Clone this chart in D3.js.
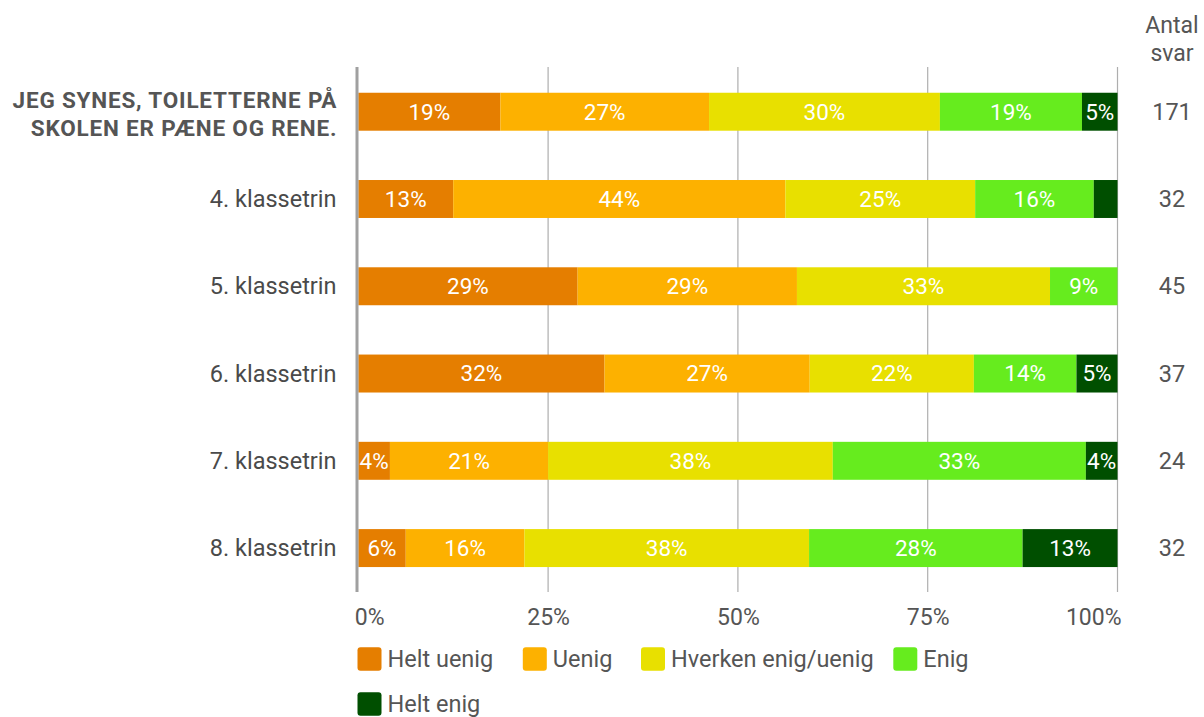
<!DOCTYPE html>
<html>
<head>
<meta charset="utf-8">
<script src="https://cdn.jsdelivr.net/npm/d3@7"></script>
<style>
  html, body { margin: 0; padding: 0; background: #fff; }
  svg { display: block; font-family: Roboto, "Noto Sans", sans-serif; }
</style>
</head>
<body>
<svg id="chart" width="1204" height="717"></svg>
<script>
// Survey groups (first row is the whole school)
const groups = ["JEG SYNES, TOILETTERNE PÅ\nSKOLEN ER PÆNE OG RENE.", "4. klassetrin", "5. klassetrin", "6. klassetrin", "7. klassetrin", "8. klassetrin"];
// Number of answers per group
const totals = [171, 32, 45, 37, 24, 32];
// Answer categories
const answers = ["Helt uenig", "Uenig", "Hverken enig/uenig", "Enig", "Helt enig"];
const colors = ["#e57e00", "#fdb100", "#e8e000", "#66ec1e", "#004f00"];
// Answer counts per category, one value per group
const heltUenig = [32, 4, 13, 12, 1, 2];
const uenig     = [47, 14, 13, 10, 5, 5];
const hverken   = [52, 8, 15, 8, 9, 12];
const enig      = [32, 5, 4, 5, 8, 9];
const heltEnig  = [8, 1, 0, 2, 1, 4];
const tickValues = [0, 0.25, 0.5, 0.75, 1];
const tickLabels = ["0%", "25%", "50%", "75%", "100%"];

const series = [heltUenig, uenig, hverken, enig, heltEnig];
const rows = groups.map((g, i) => {
  const r = { group: g, total: totals[i] };
  answers.forEach((a, k) => r[a] = series[k][i] / totals[i]);
  return r;
});

const svg = d3.select("#chart");
const x = d3.scaleLinear().domain([0, 1]).range([358.3, 1117.5]);
const y = d3.scaleBand().domain(groups).range([67, 592.8]).paddingInner(0.565).paddingOuter(0.295);
const color = d3.scaleOrdinal().domain(answers).range(colors);
const gridTop = 67, gridBottom = 592;

// Vertical gridlines
svg.append("g").selectAll("line")
  .data(tickValues.slice(1))
  .join("line")
  .attr("x1", d => x(d)).attr("x2", d => x(d))
  .attr("y1", gridTop).attr("y2", gridBottom)
  .attr("stroke", "#aeaeae").attr("stroke-width", 1.2);

// Stacked bars
const stack = d3.stack().keys(answers)(rows);
const layer = svg.append("g").selectAll("g")
  .data(stack).join("g")
  .attr("fill", d => color(d.key));
layer.selectAll("rect")
  .data(d => d.map(s => ({ s, key: d.key })))
  .join("rect")
  .attr("x", d => x(d.s[0]))
  .attr("width", d => x(d.s[1]) - x(d.s[0]))
  .attr("y", d => y(d.s.data.group))
  .attr("height", y.bandwidth());

// Segment labels (only where they fit)
layer.selectAll("text")
  .data(d => d.map(s => ({ s, key: d.key })).filter(d => x(d.s[1]) - x(d.s[0]) > 28))
  .join("text")
  .attr("x", d => (x(d.s[0]) + x(d.s[1])) / 2)
  .attr("y", d => y(d.s.data.group) + y.bandwidth() / 2)
  .attr("dy", "0.35em")
  .attr("text-anchor", "middle")
  .attr("fill", "#fff")
  .attr("font-size", 22.5)
  .text(d => Math.round((d.s[1] - d.s[0]) * 100) + "%");

// Baseline axis line
svg.append("line")
  .attr("x1", 357).attr("x2", 357).attr("y1", gridTop).attr("y2", gridBottom)
  .attr("stroke", "#a0a0a0").attr("stroke-width", 3);

// X axis tick labels
const xAxis = d3.axisBottom(x).tickValues(tickValues).tickFormat((d, i) => tickLabels[i]).tickSize(0).tickPadding(0);
const gx = svg.append("g").attr("transform", "translate(0,625)").call(xAxis);
gx.select(".domain").remove();
gx.selectAll(".tick text")
  .attr("y", 0).attr("dy", 0)
  .attr("font-size", 23).attr("fill", "#555").attr("font-family", "Roboto, sans-serif")
  .attr("text-anchor", (d, i) => i === 0 ? "start" : (i === tickValues.length - 1 ? "end" : "middle"))
  .attr("dx", (d, i) => i === 0 ? -4 : (i === tickValues.length - 1 ? 3.5 : 0));

// Row labels
svg.append("g").selectAll("text")
  .data(groups)
  .join("text")
  .attr("text-anchor", "end")
  .attr("fill", (d, i) => i === 0 ? "#555" : "#4a4a4a")
  .attr("font-size", (d, i) => i === 0 ? 22.5 : 23.5)
  .attr("font-weight", (d, i) => i === 0 ? "bold" : "normal")
  .attr("letter-spacing", (d, i) => i === 0 ? 0.8 : 0)
  .each(function (d, i) {
    const lines = d.split("\n");
    const cy = y(d) + y.bandwidth() / 2 + (lines.length > 1 ? 2.5 : 0);
    const lh = 28;
    d3.select(this).selectAll("tspan")
      .data(lines).join("tspan")
      .attr("x", lines.length > 1 ? 337.3 : 336.5)
      .attr("y", (l, j) => cy + (j - (lines.length - 1) / 2) * lh)
      .attr("dy", "0.35em")
      .text(l => l);
  });

// Answer counts column
svg.append("text").attr("x", 1172).attr("y", 33.3)
  .attr("text-anchor", "middle").attr("font-size", 23).attr("fill", "#555").text("Antal");
svg.append("text").attr("x", 1172).attr("y", 61)
  .attr("text-anchor", "middle").attr("font-size", 23).attr("fill", "#555").text("svar");
svg.append("g").selectAll("text")
  .data(rows).join("text")
  .attr("x", 1172)
  .attr("y", d => y(d.group) + y.bandwidth() / 2)
  .attr("dy", "0.34em")
  .attr("text-anchor", "middle")
  .attr("font-size", 23.5)
  .attr("fill", "#555")
  .text(d => d.total);

// Legend
const legendPos = [[357.5, 659], [522.8, 659], [641, 659], [893.3, 659], [357.5, 704]];
const leg = svg.append("g").selectAll("g")
  .data(answers).join("g")
  .attr("transform", (d, i) => `translate(${legendPos[i][0]},${legendPos[i][1]})`);
leg.append("rect").attr("x", 0).attr("y", -11.7).attr("width", 24).attr("height", 23.4)
  .attr("rx", 3).attr("fill", d => color(d));
leg.append("text").attr("x", 30).attr("y", 0).attr("dy", "0.35em")
  .attr("font-size", 23.5).attr("fill", "#555").text(d => d);
</script>
</body>
</html>
